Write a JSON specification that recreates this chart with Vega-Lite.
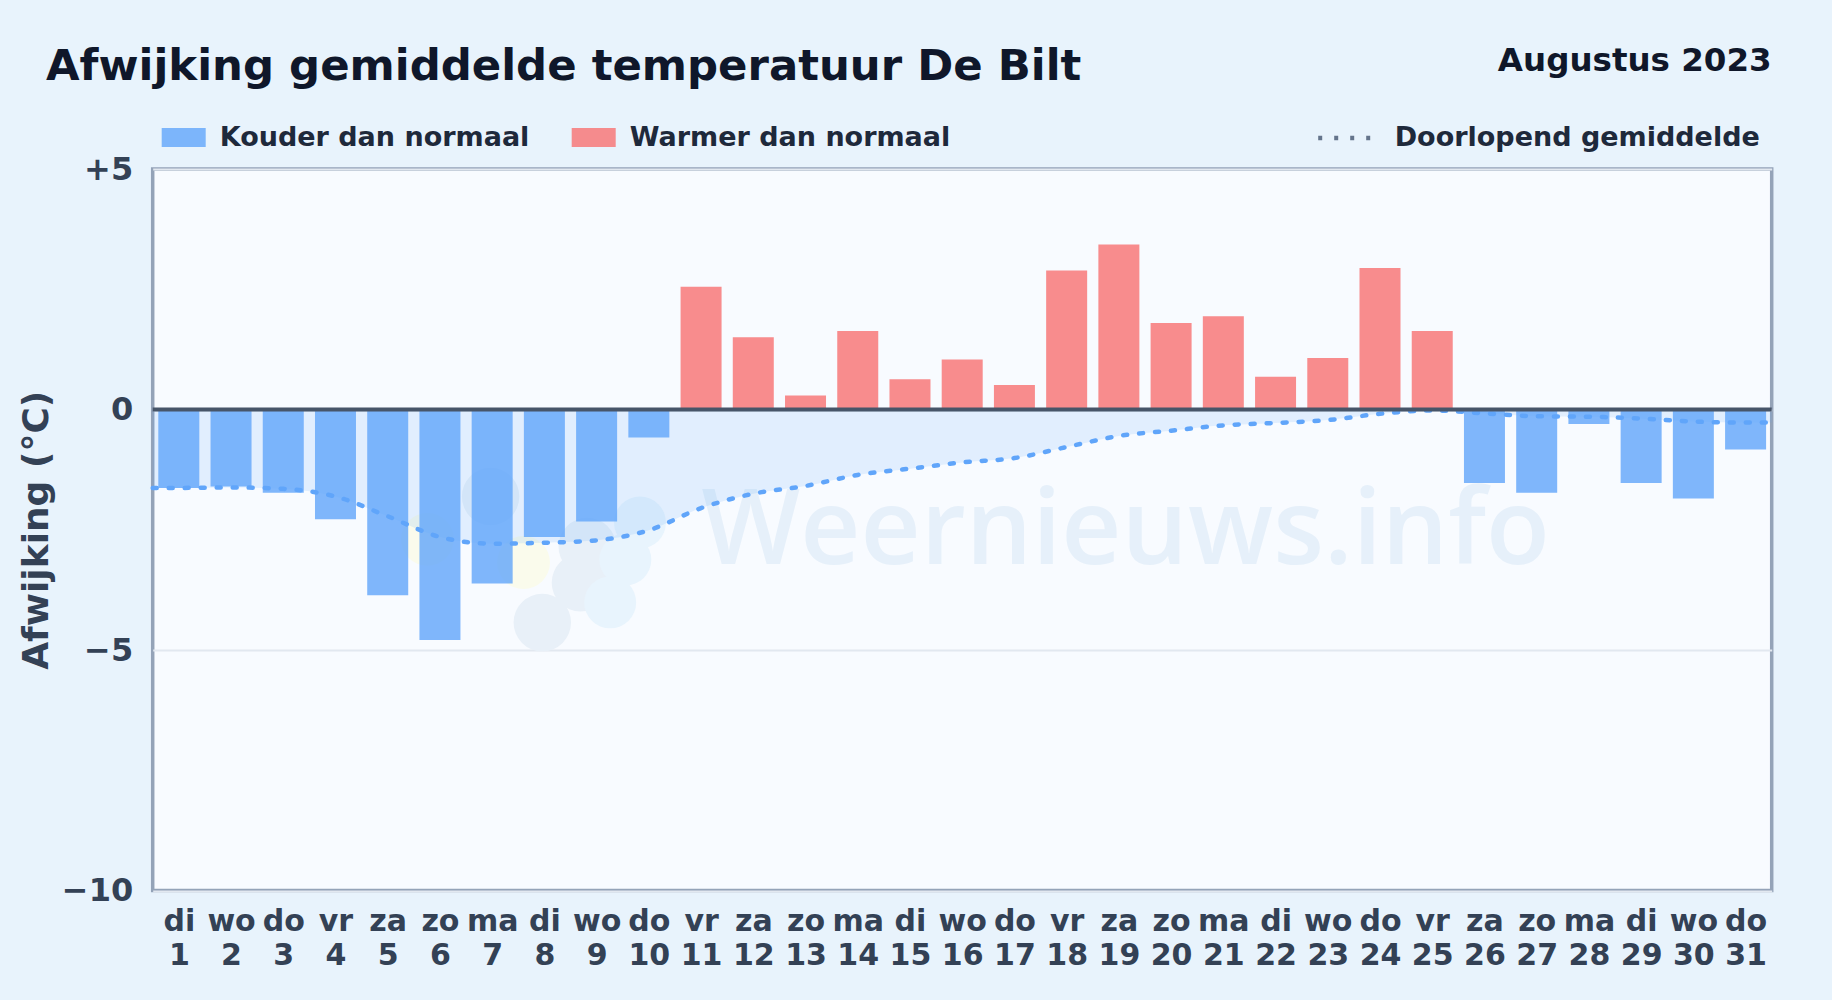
{
"$schema":"https://vega.github.io/schema/vega-lite/v6.json",
"width":1619,"height":721.5,
"autosize":{"type":"none"},
"padding":{"left":152.7,"top":169,"right":60.3,"bottom":109.5},
"background":"#e8f3fc",
"title":{"text":"Afwijking gemiddelde temperatuur De Bilt","anchor":"start","frame":"group","dx":-106.7,"dy":83,"offset":4,"baseline":"alphabetic","font":"DejaVu Sans","fontWeight":"bold","fontSize":43.4,"color":"#0f172a"},
"config":{"font":"DejaVu Sans","view":{"fill":"#f8fbff","stroke":"#94a3b8","strokeWidth":3.5}},
"datasets":{
"one":[{"row":1}],
"days":[
{"day":1,"deviation":-1.63,"kind":"Kouder dan normaal"},{"day":2,"deviation":-1.6,"kind":"Kouder dan normaal"},{"day":3,"deviation":-1.73,"kind":"Kouder dan normaal"},{"day":4,"deviation":-2.28,"kind":"Kouder dan normaal"},{"day":5,"deviation":-3.86,"kind":"Kouder dan normaal"},{"day":6,"deviation":-4.79,"kind":"Kouder dan normaal"},{"day":7,"deviation":-3.62,"kind":"Kouder dan normaal"},{"day":8,"deviation":-2.65,"kind":"Kouder dan normaal"},{"day":9,"deviation":-2.33,"kind":"Kouder dan normaal"},{"day":10,"deviation":-0.58,"kind":"Kouder dan normaal"},
{"day":11,"deviation":2.55,"kind":"Warmer dan normaal"},{"day":12,"deviation":1.5,"kind":"Warmer dan normaal"},{"day":13,"deviation":0.29,"kind":"Warmer dan normaal"},{"day":14,"deviation":1.63,"kind":"Warmer dan normaal"},{"day":15,"deviation":0.63,"kind":"Warmer dan normaal"},{"day":16,"deviation":1.04,"kind":"Warmer dan normaal"},{"day":17,"deviation":0.51,"kind":"Warmer dan normaal"},{"day":18,"deviation":2.89,"kind":"Warmer dan normaal"},{"day":19,"deviation":3.43,"kind":"Warmer dan normaal"},{"day":20,"deviation":1.8,"kind":"Warmer dan normaal"},{"day":21,"deviation":1.94,"kind":"Warmer dan normaal"},{"day":22,"deviation":0.68,"kind":"Warmer dan normaal"},{"day":23,"deviation":1.07,"kind":"Warmer dan normaal"},{"day":24,"deviation":2.94,"kind":"Warmer dan normaal"},{"day":25,"deviation":1.63,"kind":"Warmer dan normaal"},
{"day":26,"deviation":-1.53,"kind":"Kouder dan normaal"},{"day":27,"deviation":-1.73,"kind":"Kouder dan normaal"},{"day":28,"deviation":-0.3,"kind":"Kouder dan normaal"},{"day":29,"deviation":-1.53,"kind":"Kouder dan normaal"},{"day":30,"deviation":-1.85,"kind":"Kouder dan normaal"},{"day":31,"deviation":-0.83,"kind":"Kouder dan normaal"}],
"running":[
{"day":0.5,"mean":-1.63,"series":"Doorlopend gemiddelde"},{"day":1,"mean":-1.63,"series":"Doorlopend gemiddelde"},{"day":2,"mean":-1.62,"series":"Doorlopend gemiddelde"},{"day":3,"mean":-1.65,"series":"Doorlopend gemiddelde"},{"day":4,"mean":-1.81,"series":"Doorlopend gemiddelde"},{"day":5,"mean":-2.22,"series":"Doorlopend gemiddelde"},{"day":6,"mean":-2.65,"series":"Doorlopend gemiddelde"},{"day":7,"mean":-2.79,"series":"Doorlopend gemiddelde"},{"day":8,"mean":-2.77,"series":"Doorlopend gemiddelde"},{"day":9,"mean":-2.72,"series":"Doorlopend gemiddelde"},{"day":10,"mean":-2.51,"series":"Doorlopend gemiddelde"},{"day":11,"mean":-2.05,"series":"Doorlopend gemiddelde"},{"day":12,"mean":-1.75,"series":"Doorlopend gemiddelde"},{"day":13,"mean":-1.59,"series":"Doorlopend gemiddelde"},{"day":14,"mean":-1.36,"series":"Doorlopend gemiddelde"},{"day":15,"mean":-1.23,"series":"Doorlopend gemiddelde"},{"day":16,"mean":-1.1,"series":"Doorlopend gemiddelde"},{"day":17,"mean":-1.01,"series":"Doorlopend gemiddelde"},{"day":18,"mean":-0.78,"series":"Doorlopend gemiddelde"},{"day":19,"mean":-0.55,"series":"Doorlopend gemiddelde"},{"day":20,"mean":-0.44,"series":"Doorlopend gemiddelde"},{"day":21,"mean":-0.33,"series":"Doorlopend gemiddelde"},{"day":22,"mean":-0.28,"series":"Doorlopend gemiddelde"},{"day":23,"mean":-0.22,"series":"Doorlopend gemiddelde"},{"day":24,"mean":-0.09,"series":"Doorlopend gemiddelde"},{"day":25,"mean":-0.02,"series":"Doorlopend gemiddelde"},{"day":26,"mean":-0.08,"series":"Doorlopend gemiddelde"},{"day":27,"mean":-0.14,"series":"Doorlopend gemiddelde"},{"day":28,"mean":-0.15,"series":"Doorlopend gemiddelde"},{"day":29,"mean":-0.19,"series":"Doorlopend gemiddelde"},{"day":30,"mean":-0.25,"series":"Doorlopend gemiddelde"},{"day":31,"mean":-0.27,"series":"Doorlopend gemiddelde"},{"day":31.5,"mean":-0.27,"series":"Doorlopend gemiddelde"}],
"logoGrey":[{"day":7.96,"mean":-4.43},{"day":6.97,"mean":-1.81},{"day":8.82,"mean":-2.85},{"day":8.69,"mean":-3.6}],
"logoBlue":[{"day":9.26,"mean":-4.01},{"day":9.83,"mean":-2.35},{"day":9.55,"mean":-3.12}],
"logoYellow":[{"day":7.6,"mean":-3.18},{"day":5.76,"mean":-2.7}]
},
"layer":[
{"data":{"name":"logoYellow"},"mark":{"type":"point","filled":true,"opacity":1,"size":2800,"color":"#fafbec"},
 "encoding":{"x":{"field":"day","type":"quantitative","scale":{"domain":[0.5,31.5],"nice":false,"zero":false,"padding":0},
   "axis":{"values":[1,2,3,4,5,6,7,8,9,10,11,12,13,14,15,16,17,18,19,20,21,22,23,24,25,26,27,28,29,30,31],"title":null,"domain":false,"ticks":false,"grid":false,"labelFontSize":30,"labelFontWeight":"bold","labelColor":"#334155","labelPadding":15.5,"labelLineHeight":34,"labelOverlap":false,"labelFlush":false,"labelBound":false,"labelBaseline":"top","labelExpr":"[['di','wo','do','vr','za','zo','ma'][(datum.value-1)%7], ''+datum.value]"}},
  "y":{"field":"mean","type":"quantitative","scale":{"domain":[-10,5],"nice":false,"zero":false},
   "axis":{"values":[5,0,-5,-10],"title":"Afwijking (°C)","titleFontSize":36,"titleFontWeight":"bold","titleColor":"#334155","titlePadding":6,"domain":false,"ticks":false,"grid":true,"gridColor":"#e2e8f0","gridWidth":2,"labelFontSize":32,"labelFontWeight":"bold","labelColor":"#334155","labelPadding":20,"labelBound":false,"labelExpr":"datum.value>0?'+'+datum.value:(datum.value<0?'−'+abs(datum.value):''+datum.value)"}}}},
{"data":{"name":"logoGrey"},"mark":{"type":"point","filled":true,"opacity":1,"size":3300,"color":"#e8f0f8"},
 "encoding":{"x":{"field":"day","type":"quantitative"},"y":{"field":"mean","type":"quantitative"}}},
{"data":{"name":"logoBlue"},"mark":{"type":"point","filled":true,"opacity":1,"size":2700,"color":"#e8f4fd"},
 "encoding":{"x":{"field":"day","type":"quantitative"},"y":{"field":"mean","type":"quantitative"}}},
{"data":{"name":"one"},"mark":{"type":"text","font":"Open Sans","fontWeight":600,"fontSize":104.5,"align":"center","baseline":"alphabetic","color":"#e6f0fa"},
 "encoding":{"x":{"datum":19.13},"y":{"datum":-3.22},"text":{"value":"Weernieuws.info"}}},
{"data":{"name":"running"},"mark":{"type":"area","color":"#60a5fa","opacity":0.15,"interpolate":"monotone"},
 "encoding":{"x":{"field":"day","type":"quantitative"},"y":{"field":"mean","type":"quantitative"},"y2":{"datum":0}}},
{"data":{"name":"days"},"mark":{"type":"bar","size":41,"opacity":0.8},
 "encoding":{"x":{"field":"day","type":"quantitative"},"y":{"field":"deviation","type":"quantitative"},"y2":{"datum":0},
  "color":{"field":"kind","type":"nominal","scale":{"domain":["Kouder dan normaal","Warmer dan normaal"],"range":["#60a5fa","#f87171"]},
   "legend":{"title":null,"orient":"none","direction":"horizontal","legendX":9,"legendY":-53.5,"symbolType":"M-1,-0.432H1V0.432H-1Z","symbolSize":1936,"symbolStrokeWidth":0,"symbolOpacity":0.8,"labelFontSize":27,"labelFontWeight":"bold","labelColor":"#1e293b","labelOffset":14,"columnPadding":42,"labelLimit":400}}}},
{"data":{"name":"running"},"mark":{"type":"line","color":"#60a5fa","strokeWidth":4.5,"strokeCap":"round","interpolate":"monotone"},
 "encoding":{"x":{"field":"day","type":"quantitative"},"y":{"field":"mean","type":"quantitative"},
  "strokeDash":{"field":"series","type":"nominal","scale":{"domain":["Doorlopend gemiddelde"],"range":[[4,12]]},
   "legend":{"title":null,"orient":"none","legendX":1163,"legendY":-61,"symbolType":"stroke","symbolSize":3025,"symbolStrokeColor":"#64748b","symbolStrokeWidth":4.5,"labelFontSize":27,"labelFontWeight":"bold","labelColor":"#1e293b","labelOffset":19,"labelLimit":500}}}},
{"data":{"name":"one"},"mark":{"type":"rule","color":"#475569","strokeWidth":4},"encoding":{"y":{"datum":0}}},
{"data":{"name":"one"},"mark":{"type":"text","align":"right","baseline":"alphabetic","dy":-98.5,"fontSize":32.5,"fontWeight":"bold","color":"#0f172a"},
 "encoding":{"x":{"datum":31.5},"y":{"datum":5},"text":{"value":"Augustus 2023"}}}
],
"resolve":{"legend":{"color":"independent"}}
}
